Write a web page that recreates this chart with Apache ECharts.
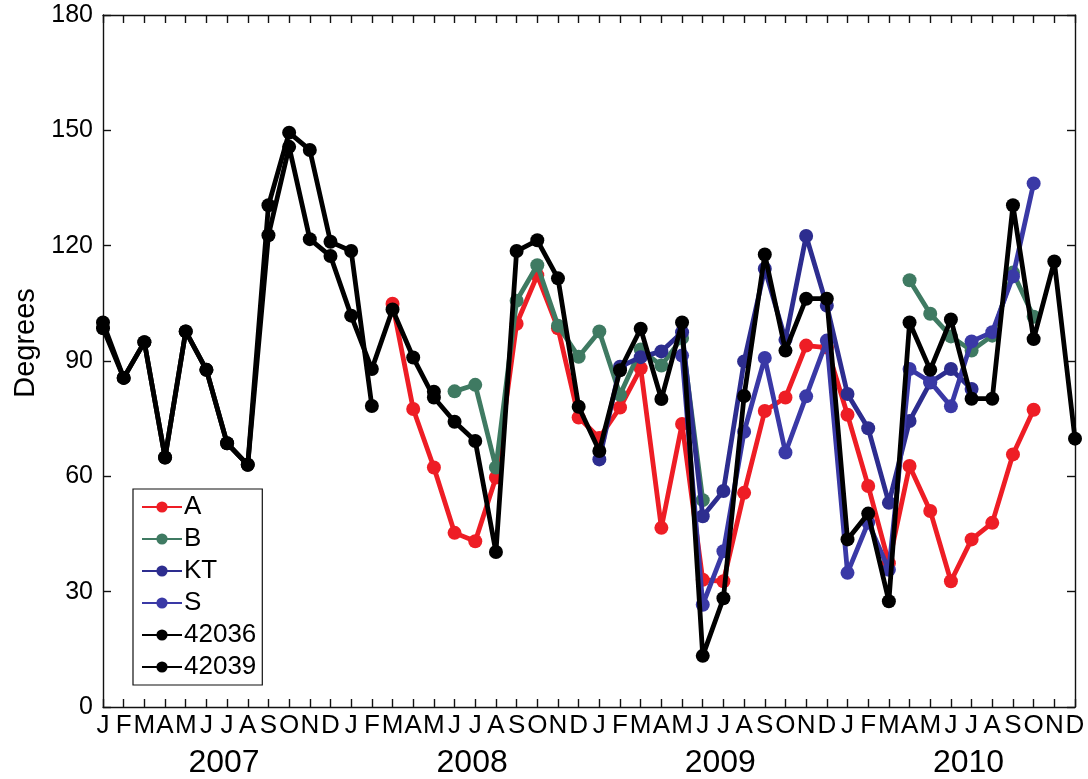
<!DOCTYPE html>
<html>
<head>
<meta charset="utf-8">
<script src="https://cdn.jsdelivr.net/npm/echarts@6/dist/echarts.min.js"></script>
<style>
  html, body { margin: 0; padding: 0; background: #fff; }
  #chart { width: 1088px; height: 779px; }
</style>
</head>
<body>
<div id="chart"></div>
<script>
// Monthly values, Jan 2007 .. Dec 2010 (48 months); null = no observation
const MONTHS = ['J', 'F', 'M', 'A', 'M', 'J', 'J', 'A', 'S', 'O', 'N', 'D'];
const YEARS = ['2007', '2008', '2009', '2010'];
const Y_TICKS = [0, 30, 60, 90, 120, 150, 180];

const seriesA = [
  null, null, null, null, null, null, null, null, null, null, null, null,
  null, null, 104.9, 77.5, 62.3, 45.3, 43.1, 59.7, 99.7, 112.3, 98.5, 75.3,
  70.0, 77.9, 88.1, 46.6, 73.6, 33.1, 32.7, 55.7, 77.0, 80.5, 94.0, 93.5,
  76.0, 57.5, 37.4, 62.7, 51.0, 32.7, 43.6, 47.9, 65.7, 77.3, null, null
];
const seriesB = [
  null, null, null, null, null, null, null, null, null, null, null, null,
  null, null, null, null, null, 82.1, 83.8, 62.3, 105.7, 114.9, 99.2, 91.1,
  97.7, 81.2, 93.0, 88.8, 96.0, 53.8, null, null, null, null, null, null,
  null, null, null, 111.0, 102.3, 96.4, 92.7, 96.6, 113.0, 101.5, null, null
];
const seriesKT = [
  null, null, null, null, null, null, null, null, null, null, null, null,
  null, null, null, null, null, null, null, null, null, null, null, null,
  64.4, 88.5, 91.0, 92.5, 97.5, 49.6, 56.2, 89.9, 114.0, 95.5, 122.5, 104.4,
  81.4, 72.5, 53.1, 74.4, 84.4, 87.9, 82.7, null, null, null, null, null
];
const seriesS = [
  null, null, null, null, null, null, null, null, null, null, null, null,
  null, null, null, null, null, null, null, null, null, null, null, null,
  null, null, null, null, 91.4, 26.6, 40.5, 71.6, 90.8, 66.2, 80.8, 95.3,
  34.9, 48.0, 35.7, 87.9, 84.6, 78.2, 95.1, 97.5, 112.0, 136.2, null, null
];
const series42036 = [
  100.0, 85.6, 94.9, 64.9, 97.7, 87.7, 68.6, 63.0, 130.5, 149.4, 144.9, 121.0,
  118.6, 78.3, null, null, 82.0, null, null, null, null, null, null, null,
  null, null, null, null, null, null, null, null, null, null, null, null,
  null, null, null, null, null, null, null, null, null, null, null, null
];
const series42039 = [
  98.5, 85.6, 94.9, 64.9, 97.7, 87.7, 68.6, 63.0, 122.7, 145.7, 121.7, 117.3,
  101.8, 87.9, 103.4, 90.9, 80.5, 74.2, 69.2, 40.3, 118.6, 121.4, 111.5, 78.1,
  66.6, 87.6, 98.4, 80.1, 100.0, 13.3, 28.3, 80.9, 117.7, 92.7, 106.2, 106.2,
  43.6, 50.3, 27.5, 100.0, 87.7, 100.8, 80.2, 80.2, 130.5, 95.7, 115.9, 69.8
];

const NAMES = ['A', 'B', 'KT', 'S', '42036', '42039'];
const COLORS = ['#ee1d25', '#3f7a62', '#2d2d8f', '#3a39a6', '#000000', '#000000'];
const VALUES = [seriesA, seriesB, seriesKT, seriesS, series42036, series42039];

const FONT = '"Liberation Sans", Arial, Helvetica, sans-serif';
const LAST = MONTHS.length * YEARS.length - 1;

const chart = echarts.init(document.getElementById('chart'), null, { renderer: 'canvas' });

const frameLine = { show: true, onZero: false, lineStyle: { color: '#111', width: 1.4 } };
const tickIn = { show: true, inside: true, length: 8, lineStyle: { color: '#111', width: 1.4 } };

chart.setOption({
  animation: false,
  backgroundColor: '#fff',
  textStyle: { fontFamily: FONT },
  grid: { left: 103, right: 13, top: 15, bottom: 72, containLabel: false },
  // vertical axis title, sitting slightly above the axis midpoint
  graphic: [{
    type: 'text',
    x: 26,
    y: 343,
    rotation: Math.PI / 2,
    style: {
      text: 'Degrees',
      fontFamily: FONT,
      fontSize: 29,
      fill: '#000',
      align: 'center',
      verticalAlign: 'middle'
    }
  }],
  legend: {
    orient: 'vertical',
    left: 133,
    top: 489,
    data: NAMES,
    itemWidth: 40,
    itemHeight: 14,
    itemGap: 6,
    padding: [5, 6, 5, 8],
    backgroundColor: '#fff',
    borderColor: '#111',
    borderWidth: 1.2,
    textStyle: { fontFamily: FONT, fontSize: 26, color: '#000', padding: [0, 0, 0, -3] }
  },
  xAxis: [
    {
      type: 'value', position: 'bottom', min: 0, max: LAST, interval: 1,
      axisLine: frameLine, axisTick: tickIn, splitLine: { show: false },
      axisLabel: {
        margin: 6, fontSize: 26, color: '#000', fontFamily: FONT,
        formatter: v => MONTHS[Math.round(v) % 12]
      }
    },
    {
      type: 'value', position: 'top', min: 0, max: LAST, interval: 1,
      axisLine: frameLine, axisTick: tickIn, splitLine: { show: false },
      axisLabel: { show: false }
    },
    {
      type: 'value', position: 'bottom', min: 0, max: LAST,
      axisLine: { show: false }, axisTick: { show: false }, splitLine: { show: false },
      axisLabel: {
        margin: 40, fontSize: 32, color: '#000', fontFamily: FONT,
        customValues: YEARS.map((y, k) => k * 12 + 5.85),
        formatter: v => YEARS[Math.floor(v / 12)]
      }
    }
  ],
  yAxis: [
    {
      type: 'value', position: 'left', min: Y_TICKS[0], max: Y_TICKS[Y_TICKS.length - 1], interval: 30,
      axisLine: frameLine, axisTick: tickIn, splitLine: { show: false },
      axisLabel: { margin: 10, fontSize: 25, color: '#000', fontFamily: FONT }
    },
    {
      type: 'value', position: 'right', min: Y_TICKS[0], max: Y_TICKS[Y_TICKS.length - 1], interval: 30,
      axisLine: frameLine, axisTick: tickIn, splitLine: { show: false },
      axisLabel: { show: false }
    }
  ],
  series: NAMES.map((name, k) => ({
    name,
    type: 'line',
    xAxisIndex: 0,
    yAxisIndex: 0,
    data: VALUES[k].map((v, i) => [i, v]),
    connectNulls: false,
    symbol: 'circle',
    symbolSize: 14,
    showSymbol: true,
    showAllSymbol: true,
    color: COLORS[k],
    lineStyle: { width: 4.8, color: COLORS[k] },
    itemStyle: { color: COLORS[k] },
    z: 2 + k
  }))
});
</script>
</body>
</html>
